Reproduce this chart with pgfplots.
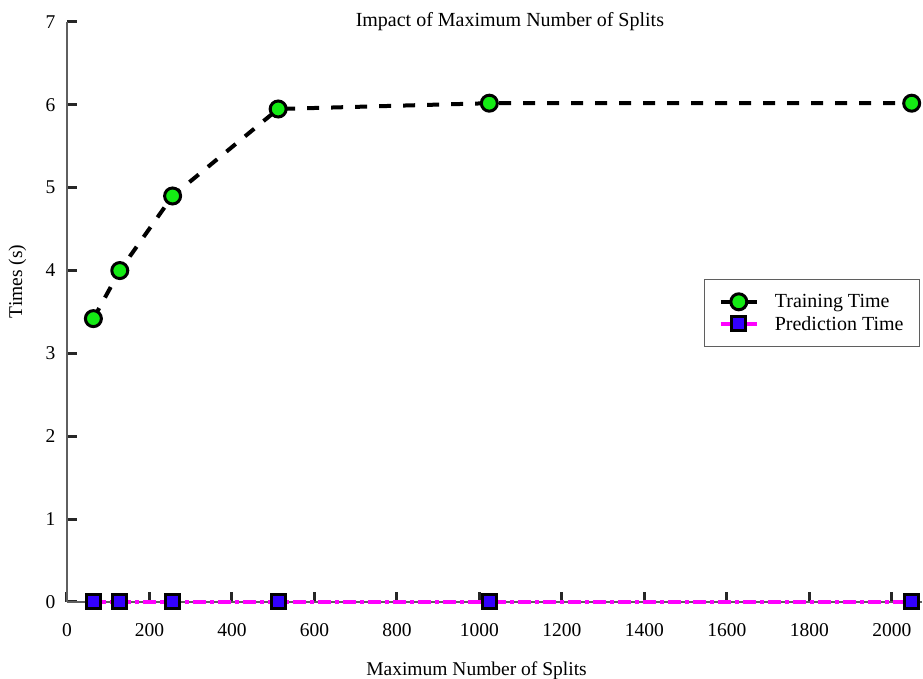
\documentclass[border=0pt]{standalone}
\usepackage{fontspec}
\setmainfont{Liberation Serif}
\usepackage{pgfplots}
\pgfplotsset{compat=1.18}
\usetikzlibrary{calc}
\definecolor{trainfill}{RGB}{20,235,20}
\definecolor{predfill}{RGB}{51,0,255}
\definecolor{predline}{RGB}{255,0,255}
\definecolor{axgray}{RGB}{95,95,95}

\begin{document}
\begin{tikzpicture}
\begin{axis}[
  name=ax,
  scale only axis, width=855pt, height=580pt,
  xmin=0, xmax=2073, ymin=0, ymax=7,
  axis lines*=left,
  axis line style={axgray, line width=1.6pt},
  tick align=inside,
  major tick length=10pt,
  tick style={black!85, line width=3pt},
  xtick={0,200,...,2000},
  ytick={0,...,7},
  font=\fontsize{19.5}{23}\selectfont,
  /pgf/number format/assume math mode=true,
  /pgf/number format/set thousands separator={},
  xticklabel style={yshift=-18pt},
  yticklabel style={xshift=-8pt},
  clip=false,
  title={Impact of Maximum Number of Splits},
  title style={at={(axis description cs:0.518,0.991)}, anchor=center, font=\fontsize{20}{24}\selectfont},
  xlabel={Maximum Number of Splits},
  xlabel style={at={(axis description cs:0.479,-0.118)}, anchor=center},
  ylabel={Times (s)},
  ylabel style={at={(axis description cs:-0.058,0.553)}, anchor=center},
  legend style={at={(axis description cs:0.9977,0.557)}, anchor=north east,
    draw=axgray, line width=1pt, fill=white,
    inner xsep=14pt, inner ysep=13pt, row sep=3pt,
    nodes={inner sep=2pt},
    /tikz/every odd column/.append style={column sep=14pt},
    font=\fontsize{20}{24}\selectfont},
  legend cell align=left,
  legend image code/.code={\draw[mark repeat=2, mark phase=2, #1] plot coordinates {(0pt,0pt) (18pt,0pt) (36pt,0pt)};},
]
% training time per setting of the split limit
\addplot[black, line width=4pt, dash pattern=on 12pt off 12pt,
  mark=*, mark size=8pt,
  mark options={solid, fill=trainfill, draw=black, line width=3pt}]
  coordinates {(64,3.42) (128,4.00) (256,4.90) (512,5.95) (1024,6.02) (2048,6.02)};
\addlegendentry{Training Time}
% prediction time stays near zero
\addplot[predline, line width=3.5pt, dash pattern=on 13pt off 4pt on 4pt off 4pt,
  mark=square*, mark size=7pt,
  mark options={solid, fill=predfill, draw=black, line width=3pt}]
  coordinates {(64,0) (128,0) (256,0) (512,0) (1024,0) (2048,0)};
\addlegendentry{Prediction Time}
\end{axis}
\pgfresetboundingbox
\path ($(ax.south west)+(-67pt,-77pt)$) rectangle ($(ax.north east)+(1pt,22pt)$);
\end{tikzpicture}
\end{document}
